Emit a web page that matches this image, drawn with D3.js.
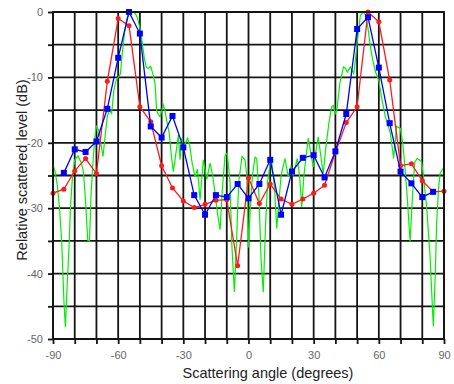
<!DOCTYPE html>
<html>
<head>
<meta charset="utf-8">
<script src="https://cdn.jsdelivr.net/npm/d3@7"></script>
<style>
  body { margin: 0; background: #fff; }
  svg { display: block; font-family: Arial, "Liberation Sans", sans-serif; }
</style>
</head>
<body>
<div id="chart"></div>
<script>
// measured (red), model (blue) and simulated (green) scattering patterns
const redAngles = [-90, -85, -80, -75, -70, -65, -60, -55, -50, -45, -40, -35, -30, -25, -20, -15, -10, -5,
  0, 5, 10, 15, 20, 25, 30, 35, 40, 45, 50, 55, 60, 65, 70, 75, 80, 85, 90];
const redValues = [-27.7, -27.1, -24.3, -22.4, -24.7, -10.6, -1.0, -2.1, -14.5, -16.8, -23.5, -26.9, -28.9, -29.9, -29.4, -28.8, -28.7, -38.8,
  -25.4, -29.3, -26.3, -28.6, -29.4, -28.6, -27.7, -26.5, -21.5, -16.9, -14.5, 0, -1.5, -10.4, -23.5, -23.2, -25.8, -27.5, -27.4];

const blueAngles = [-85, -80, -75, -70, -65, -60, -55, -50, -45, -40, -35, -30, -25, -20, -15, -10, -5,
  0, 5, 10, 15, 20, 25, 30, 35, 40, 45, 50, 55, 60, 65, 70, 75, 80, 85];
const blueValues = [-24.6, -21.0, -21.4, -19.8, -14.8, -7.0, 0, -3.3, -17.5, -19.2, -15.9, -20.7, -28.0, -31.0, -28.0, -28.3, -26.3,
  -28.5, -26.3, -22.6, -31.0, -24.4, -22.3, -21.9, -25.3, -21.3, -15.6, -2.6, -0.8, -8.5, -17.0, -24.4, -26.2, -28.3, -27.5];

const greenAngles = [-90, -89, -88, -87, -86, -85, -84.3, -83.5, -82.5, -82, -81, -80, -78.5, -77, -76, -75, -74, -73.2, -72.5, -71.5,
  -70.5, -70, -69, -68, -67, -66, -65, -64, -63, -62, -61, -60, -59, -58, -57, -56, -55, -54, -53, -52,
  -51, -50, -49, -48, -47, -46, -45, -44, -43, -42.3, -41.5, -40.7, -39.2, -38.5, -37.7, -36.5, -35.5, -34.6, -33.8, -33,
  -32.3, -31.5, -30.8, -30, -29, -28, -27, -26, -24.6, -23.5, -22.3, -20.8, -19.2, -17.7, -16.5, -15.4, -14.2, -13.1, -12, -10.8,
  -9.8, -8.5, -7.7, -6.5, -5.5, -4.5, -3, -1.6, -0.8, 0, 0.8, 1.8, 3, 3.8, 4.8, 5.8, 6.8, 7.8, 8.8, 10,
  10.7, 12, 13, 14, 15, 16.8, 18.3, 19.5, 20.5, 22.5, 23.5, 24.5, 25.5, 27.5, 29.8, 32.1, 34.4, 35.5, 37, 38.3,
  39, 40, 40.7, 42, 43.7, 44.6, 45.5, 46.9, 48.4, 49, 50, 51.5, 53, 54, 55, 56, 57, 58.4, 60, 61.5,
  63, 65.3, 66.8, 68.2, 69.9, 71, 72, 73, 74.4, 75.5, 76.5, 77.6, 78.5, 79.7, 80.5, 82, 83.6, 84.5, 85.1, 86,
  86.6, 87.5, 88.2, 90];
const greenValues = [-23.4, -24.5, -26.5, -30, -35, -44, -48.2, -42, -35, -30, -25, -22.6, -22.0, -23, -24.4, -29, -34.9, -35, -28, -22.4,
  -18.5, -17.5, -18, -20, -22.1, -19, -16, -15, -15.5, -12, -10.5, -10, -9.5, -6, -3, -1, -0.3, 0, 0, -0.3,
  -1, -2.5, -4.5, -7, -8.5, -8.6, -8.3, -9.5, -11, -15, -15.7, -16, -14.2, -15, -16.5, -18.5, -22, -24.4, -22.5, -20.6,
  -18.8, -22.6, -19.3, -21, -20, -19.3, -20.5, -23, -25.2, -24, -28.7, -22.6, -25.6, -23.1, -25, -27.7, -31, -33.3, -27, -21.9,
  -21.6, -26, -35.4, -42.8, -35, -26, -22.1, -22.6, -25, -36, -30, -25, -22.2, -22.4, -28, -38, -42.8, -33, -26, -23,
  -22.9, -27, -33.1, -29, -25, -22.4, -25.2, -23.7, -25, -22.4, -25, -29.8, -25, -19.3, -23.7, -19.1, -24.7, -21, -17, -14.5,
  -14.3, -15.5, -15, -11, -8.4, -8.6, -9.2, -8.4, -9.4, -8, -4.8, -0.5, 0, -0.5, -2.5, -5, -7, -9.1, -10.5, -13.5,
  -16, -18.5, -22.4, -17.5, -17.8, -20, -23.7, -28, -35.1, -28, -23, -22.4, -22.6, -22.9, -25, -29.8, -37.4, -44, -48.1, -40,
  -32.3, -27, -24.7, -23.7];

const gridX = [-90, -80, -70, -60, -50, -40, -30, -20, -10, 0, 10, 20, 30, 40, 50, 60, 70, 80, 90];
const gridY = [0, -5, -10, -15, -20, -25, -30, -35, -40, -45, -50];
const xLabels = [-90, -60, -30, 0, 30, 60, 90];
const yLabels = [0, -10, -20, -30, -40, -50];

const width = 454, height = 384;
const plotLeft = 53, plotRight = 444, plotTop = 12, plotBottom = 339;

const x = d3.scaleLinear().domain([-90, 90]).range([plotLeft, plotRight]);
const y = d3.scaleLinear().domain([0, -50]).range([plotTop, plotBottom]);

const svg = d3.select('#chart').append('svg')
  .attr('width', width)
  .attr('height', height);

// grid
svg.append('g').selectAll('line').data(gridX).enter().append('line')
  .attr('x1', d => x(d)).attr('x2', d => x(d))
  .attr('y1', plotTop).attr('y2', plotBottom)
  .attr('stroke', '#151515').attr('stroke-width', 1.8);
svg.append('g').selectAll('line').data(gridY).enter().append('line')
  .attr('x1', plotLeft).attr('x2', plotRight)
  .attr('y1', d => y(d)).attr('y2', d => y(d))
  .attr('stroke', '#151515').attr('stroke-width', 1.8);

// axes: short ticks at every grid line, labels only on some
const xAxis = d3.axisBottom(x).tickValues(gridX).tickSize(5).tickPadding(7)
  .tickFormat(d => xLabels.includes(d) ? d : '');
const yAxis = d3.axisLeft(y).tickValues(gridY).tickSize(5).tickPadding(5)
  .tickFormat(d => yLabels.includes(d) ? d : '');

const gx = svg.append('g').attr('transform', 'translate(0,' + plotBottom + ')').call(xAxis);
const gy = svg.append('g').attr('transform', 'translate(' + plotLeft + ',0)').call(yAxis);
[gx, gy].forEach(g => {
  g.select('.domain').remove();
  g.selectAll('.tick line').attr('stroke', '#151515').attr('stroke-width', 1.8);
  g.selectAll('.tick text').attr('fill', '#666').style('font-size', '11px');
});

// green curve
const greenData = greenAngles.map((a, i) => [a, greenValues[i]]);
const line = d3.line().x(d => x(d[0])).y(d => y(d[1]));
svg.append('path')
  .attr('d', line(greenData))
  .attr('fill', 'none')
  .attr('stroke', '#00f000')
  .attr('stroke-width', 1.2);

// red series
const redData = redAngles.map((a, i) => [a, redValues[i]]);
svg.append('path')
  .attr('d', line(redData))
  .attr('fill', 'none')
  .attr('stroke', '#ff1a1a')
  .attr('stroke-width', 1.3);
svg.append('g').selectAll('circle').data(redData).enter().append('circle')
  .attr('cx', d => x(d[0])).attr('cy', d => y(d[1]))
  .attr('r', 2.5)
  .attr('fill', '#ff1a1a');

// blue series
const blueData = blueAngles.map((a, i) => [a, blueValues[i]]);
svg.append('path')
  .attr('d', line(blueData))
  .attr('fill', 'none')
  .attr('stroke', '#0000ff')
  .attr('stroke-width', 1.3);
svg.append('g').selectAll('rect').data(blueData).enter().append('rect')
  .attr('x', d => x(d[0]) - 3).attr('y', d => y(d[1]) - 3)
  .attr('width', 6).attr('height', 6)
  .attr('fill', '#0000ff');

// border
svg.append('rect')
  .attr('x', plotLeft).attr('y', plotTop)
  .attr('width', plotRight - plotLeft).attr('height', plotBottom - plotTop)
  .attr('fill', 'none')
  .attr('stroke', '#151515').attr('stroke-width', 1.8);

// titles
svg.append('text')
  .attr('x', 268).attr('y', 378)
  .attr('text-anchor', 'middle')
  .attr('fill', '#222')
  .style('font-size', '14.5px')
  .text('Scattering angle (degrees)');
svg.append('text')
  .attr('transform', 'translate(27,170) rotate(-90)')
  .attr('text-anchor', 'middle')
  .attr('fill', '#222')
  .style('font-size', '14.5px')
  .text('Relative scattered level (dB)');
</script>
</body>
</html>
